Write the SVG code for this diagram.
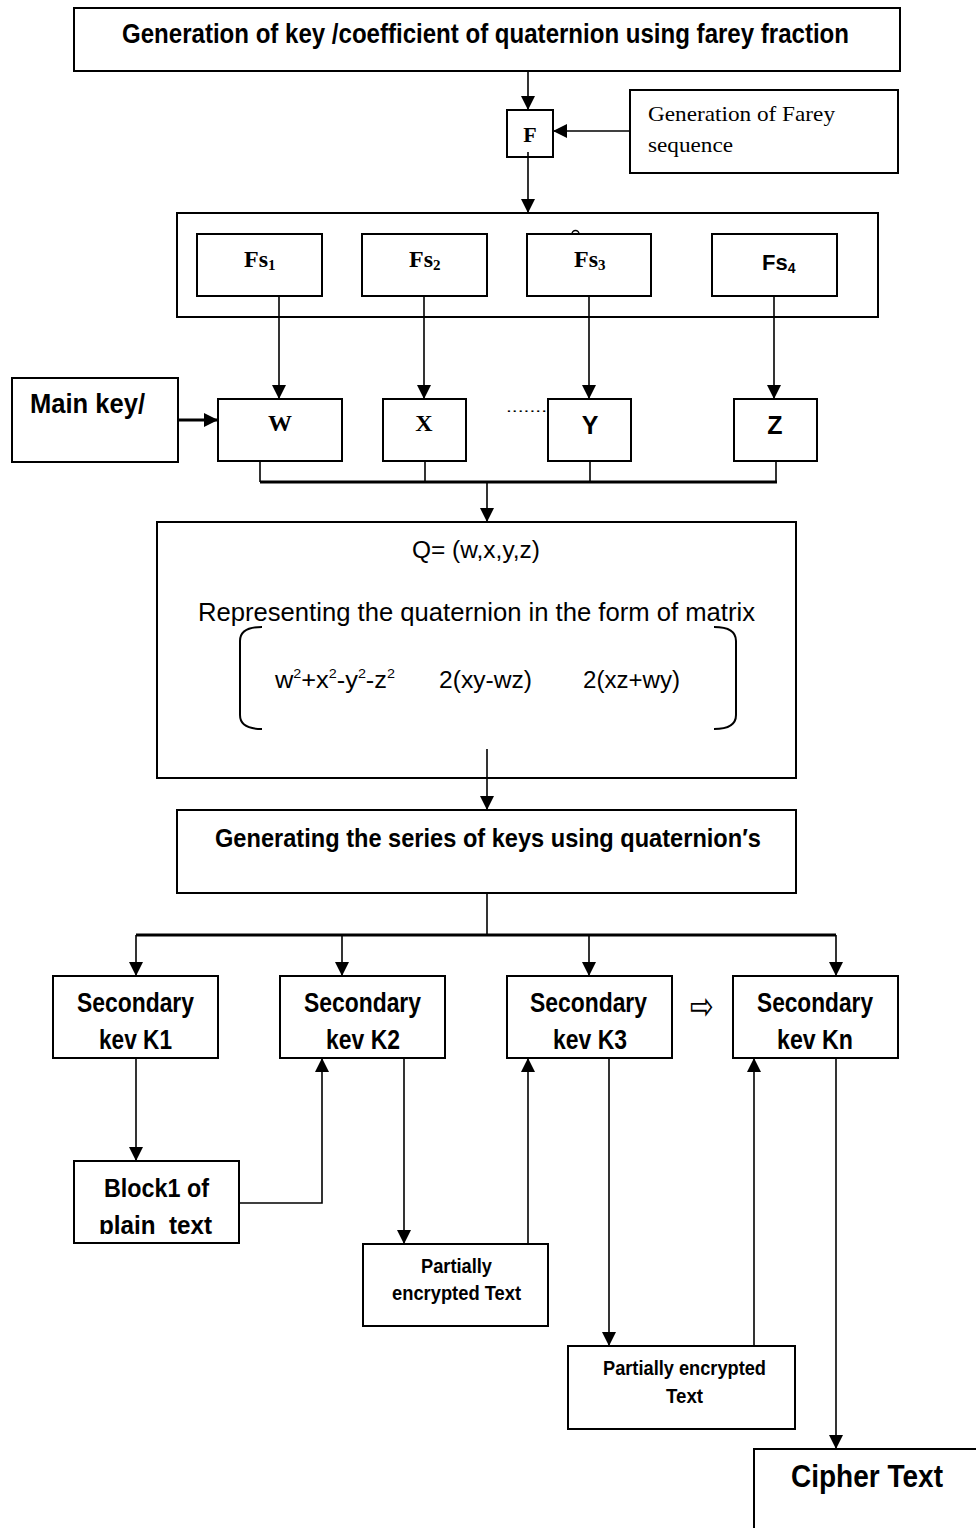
<svg xmlns="http://www.w3.org/2000/svg" width="976" height="1528" viewBox="0 0 976 1528">
<defs>
<style>
.box{fill:#fff;stroke:#000;stroke-width:2}
.ln{fill:none;stroke:#000;stroke-width:1.6}
.bus{fill:none;stroke:#000;stroke-width:3}
.sb{font-family:"Liberation Sans",Arial,sans-serif;font-weight:bold;fill:#000}
.sr{font-family:"Liberation Sans",Arial,sans-serif;fill:#000}
.tb{font-family:"Liberation Serif","Times New Roman",serif;font-weight:bold;fill:#000}
.tr{font-family:"Liberation Serif","Times New Roman",serif;fill:#000}
</style>
<marker id="ah" viewBox="0 0 14 14" markerUnits="userSpaceOnUse" markerWidth="14" markerHeight="14" refX="14" refY="7" orient="auto">
<path d="M0,0 L14,7 L0,14 z" fill="#000"/>
</marker>
<clipPath id="clipPlain"><rect x="60" y="1200" width="200" height="34"/></clipPath>
</defs>

<g id="connectors">
<line class="ln" x1="528" y1="71" x2="528" y2="110" marker-end="url(#ah)"/>
<line class="ln" x1="630" y1="131" x2="553" y2="131" marker-end="url(#ah)"/>
<line class="ln" x1="528" y1="152" x2="528" y2="213" marker-end="url(#ah)"/>
<line class="ln" x1="279" y1="296" x2="279" y2="399" marker-end="url(#ah)"/>
<line class="ln" x1="424" y1="296" x2="424" y2="399" marker-end="url(#ah)"/>
<line class="ln" x1="589" y1="296" x2="589" y2="399" marker-end="url(#ah)"/>
<line class="ln" x1="774" y1="296" x2="774" y2="399" marker-end="url(#ah)"/>
<line class="bus" x1="178" y1="420" x2="218" y2="420" marker-end="url(#ah)"/>
<polyline class="ln" points="260,461 260,482"/>
<polyline class="ln" points="425,461 425,482"/>
<polyline class="ln" points="590,461 590,482"/>
<polyline class="ln" points="776,461 776,482"/>
<line class="bus" x1="260" y1="482" x2="777" y2="482"/>
<line class="ln" x1="487" y1="482" x2="487" y2="522" marker-end="url(#ah)"/>
<line class="ln" x1="487" y1="749" x2="487" y2="810" marker-end="url(#ah)"/>
<line class="ln" x1="487" y1="893" x2="487" y2="935"/>
<line class="bus" x1="136" y1="935" x2="836" y2="935"/>
<line class="ln" x1="136" y1="935" x2="136" y2="976" marker-end="url(#ah)"/>
<line class="ln" x1="342" y1="935" x2="342" y2="976" marker-end="url(#ah)"/>
<line class="ln" x1="589" y1="935" x2="589" y2="976" marker-end="url(#ah)"/>
<line class="ln" x1="836" y1="935" x2="836" y2="976" marker-end="url(#ah)"/>
<line class="ln" x1="136" y1="1058" x2="136" y2="1161" marker-end="url(#ah)"/>
<polyline class="ln" points="239,1203 322,1203 322,1058" marker-end="url(#ah)"/>
<line class="ln" x1="404" y1="1058" x2="404" y2="1244" marker-end="url(#ah)"/>
<line class="ln" x1="528" y1="1244" x2="528" y2="1058" marker-end="url(#ah)"/>
<line class="ln" x1="609" y1="1058" x2="609" y2="1346" marker-end="url(#ah)"/>
<line class="ln" x1="754" y1="1346" x2="754" y2="1058" marker-end="url(#ah)"/>
<line class="ln" x1="836" y1="1058" x2="836" y2="1449" marker-end="url(#ah)"/>
</g>

<g id="n-top">
<rect class="box" x="74" y="8" width="826" height="63"/>
<text class="sb" x="122" y="43" font-size="27" textLength="727" lengthAdjust="spacingAndGlyphs">Generation of key /coefficient of quaternion using farey fraction</text>
</g>

<g id="n-F">
<rect class="box" x="507" y="110" width="46" height="47" style="fill:none"/>
<text class="tb" x="530" y="142" font-size="22" text-anchor="middle">F</text>
</g>

<g id="n-farey">
<rect class="box" x="630" y="90" width="268" height="83"/>
<text class="tr" x="648" y="121" font-size="22" textLength="187" lengthAdjust="spacingAndGlyphs">Generation of Farey</text>
<text class="tr" x="648" y="152" font-size="22" textLength="85" lengthAdjust="spacingAndGlyphs">sequence</text>
</g>

<g id="n-fs-container">
<rect class="box" x="177" y="213" width="701" height="104" style="fill:none"/>
<circle cx="575.5" cy="234" r="3.5" fill="none" stroke="#000" stroke-width="1.5"/>
</g>

<g id="n-fs1">
<rect class="box" x="197" y="234" width="125" height="62"/>
<text class="tb" x="244" y="267" font-size="24">Fs<tspan font-size="15" dy="3">1</tspan></text>
</g>
<g id="n-fs2">
<rect class="box" x="362" y="234" width="125" height="62"/>
<text class="tb" x="409" y="267" font-size="24">Fs<tspan font-size="15" dy="3">2</tspan></text>
</g>
<g id="n-fs3">
<rect class="box" x="527" y="234" width="124" height="62"/>
<text class="tb" x="574" y="267" font-size="24">Fs<tspan font-size="15" dy="3">3</tspan></text>
</g>
<g id="n-fs4">
<rect class="box" x="712" y="234" width="125" height="62"/>
<text class="sb" x="762" y="270" font-size="22">Fs<tspan font-size="14" dy="3">4</tspan></text>
</g>

<g id="n-mainkey">
<rect class="box" x="12" y="378" width="166" height="84"/>
<text class="sb" x="30" y="413" font-size="27" textLength="115" lengthAdjust="spacingAndGlyphs">Main key/</text>
</g>

<g id="n-w">
<rect class="box" x="218" y="399" width="124" height="62"/>
<text class="tb" x="280" y="431" font-size="24" text-anchor="middle">W</text>
</g>
<g id="n-x">
<rect class="box" x="383" y="399" width="83" height="62"/>
<text class="tb" x="424" y="431" font-size="24" text-anchor="middle">X</text>
</g>
<text class="sr" x="506" y="412" font-size="14" textLength="41" lengthAdjust="spacingAndGlyphs">.......</text>
<g id="n-y">
<rect class="box" x="548" y="399" width="83" height="62"/>
<text class="sb" x="590" y="434" font-size="25" text-anchor="middle">Y</text>
</g>
<g id="n-z">
<rect class="box" x="734" y="399" width="83" height="62"/>
<text class="sb" x="775" y="434" font-size="25" text-anchor="middle">Z</text>
</g>

<g id="n-quaternion">
<rect class="box" x="157" y="522" width="639" height="256" style="fill:none"/>
<text class="sr" x="412" y="558" font-size="23" textLength="128" lengthAdjust="spacingAndGlyphs">Q= (w,x,y,z)</text>
<text class="sr" x="198" y="621" font-size="25" textLength="557" lengthAdjust="spacingAndGlyphs">Representing the quaternion in the form of matrix</text>
<path class="ln" style="stroke-width:2" d="M262,627 Q240,627 240,641 L240,715 Q240,729 262,729"/>
<path class="ln" style="stroke-width:2" d="M714,627 Q736,627 736,641 L736,715 Q736,729 714,729"/>
<text class="sr" x="275" y="688" font-size="23" textLength="120" lengthAdjust="spacingAndGlyphs">w<tspan font-size="13" dy="-10">2</tspan><tspan dy="10">+x</tspan><tspan font-size="13" dy="-10">2</tspan><tspan dy="10">-y</tspan><tspan font-size="13" dy="-10">2</tspan><tspan dy="10">-z</tspan><tspan font-size="13" dy="-10">2</tspan></text>
<text class="sr" x="439" y="688" font-size="23" textLength="93" lengthAdjust="spacingAndGlyphs">2(xy-wz)</text>
<text class="sr" x="583" y="688" font-size="23" textLength="97" lengthAdjust="spacingAndGlyphs">2(xz+wy)</text>
</g>

<g id="n-generating">
<rect class="box" x="177" y="810" width="619" height="83"/>
<text class="sb" x="215" y="847" font-size="26" textLength="546" lengthAdjust="spacingAndGlyphs">Generating the series of keys using quaternion′s</text>
</g>

<g id="n-k1">
<rect class="box" x="53" y="976" width="165" height="82"/>
<text class="sb" x="77" y="1012" font-size="27" textLength="117" lengthAdjust="spacingAndGlyphs">Secondary</text>
<text class="sb" x="99" y="1049" font-size="27" textLength="73" lengthAdjust="spacingAndGlyphs">kev K1</text>
</g>
<g id="n-k2">
<rect class="box" x="280" y="976" width="165" height="82"/>
<text class="sb" x="304" y="1012" font-size="27" textLength="117" lengthAdjust="spacingAndGlyphs">Secondary</text>
<text class="sb" x="326" y="1049" font-size="27" textLength="74" lengthAdjust="spacingAndGlyphs">kev K2</text>
</g>
<g id="n-k3">
<rect class="box" x="507" y="976" width="165" height="82"/>
<text class="sb" x="530" y="1012" font-size="27" textLength="117" lengthAdjust="spacingAndGlyphs">Secondary</text>
<text class="sb" x="553" y="1049" font-size="27" textLength="74" lengthAdjust="spacingAndGlyphs">kev K3</text>
</g>
<text x="690" y="1019" font-family="DejaVu Sans, sans-serif" font-size="38" textLength="24" lengthAdjust="spacingAndGlyphs">⇨</text>
<g id="n-kn">
<rect class="box" x="733" y="976" width="165" height="82"/>
<text class="sb" x="757" y="1012" font-size="27" textLength="116" lengthAdjust="spacingAndGlyphs">Secondary</text>
<text class="sb" x="777" y="1049" font-size="27" textLength="76" lengthAdjust="spacingAndGlyphs">kev Kn</text>
</g>

<g id="n-block1">
<rect class="box" x="74" y="1161" width="165" height="82"/>
<text class="sb" x="104" y="1197" font-size="26" textLength="105" lengthAdjust="spacingAndGlyphs">Block1 of</text>
<text class="sb" x="99" y="1234" font-size="26" textLength="113" lengthAdjust="spacingAndGlyphs" clip-path="url(#clipPlain)">plain&#160; text</text>
</g>

<g id="n-partial1">
<rect class="box" x="363" y="1244" width="185" height="82"/>
<text class="sb" x="421" y="1273" font-size="20" textLength="71" lengthAdjust="spacingAndGlyphs">Partially</text>
<text class="sb" x="392" y="1300" font-size="20" textLength="129" lengthAdjust="spacingAndGlyphs">encrypted Text</text>
</g>

<g id="n-partial2">
<rect class="box" x="568" y="1346" width="227" height="83"/>
<text class="sb" x="603" y="1375" font-size="20" textLength="163" lengthAdjust="spacingAndGlyphs">Partially encrypted</text>
<text class="sb" x="666" y="1403" font-size="20" textLength="37" lengthAdjust="spacingAndGlyphs">Text</text>
</g>

<g id="n-cipher">
<rect class="box" x="754" y="1449" width="240" height="100"/>
<text class="sb" x="791" y="1487" font-size="31" textLength="152" lengthAdjust="spacingAndGlyphs">Cipher Text</text>
</g>
</svg>
